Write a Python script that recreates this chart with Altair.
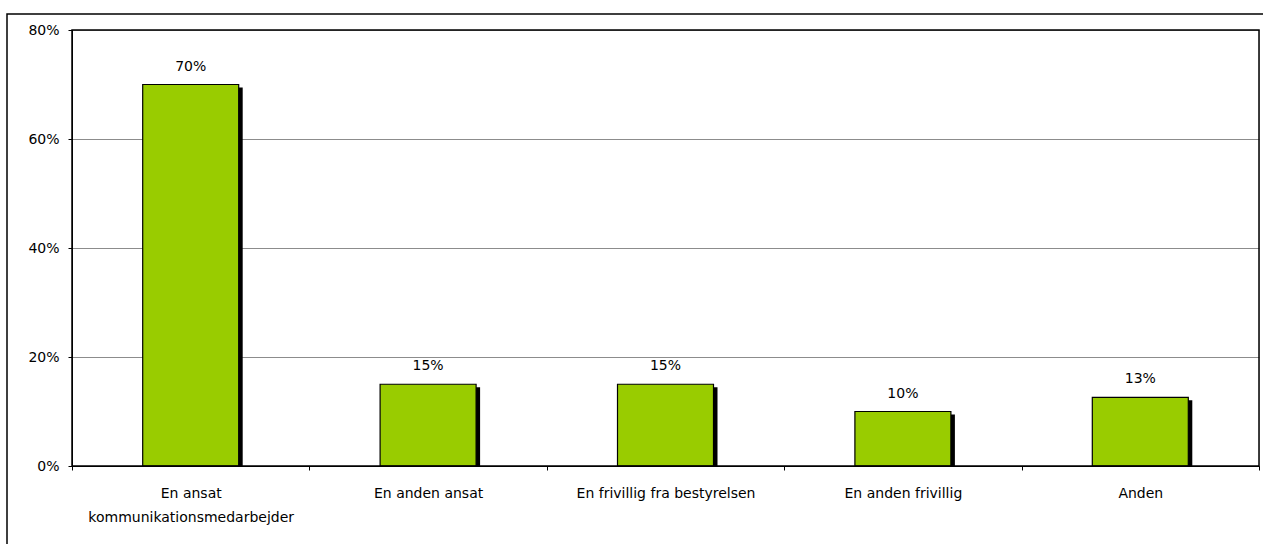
import altair as alt
import pandas as pd

# Who handles the communication work (share of respondents)
categories = [
    "En ansat|kommunikationsmedarbejder",
    "En anden ansat",
    "En frivillig fra bestyrelsen",
    "En anden frivillig",
    "Anden",
]
shares = [0.70, 0.15, 0.15, 0.10, 0.126]
y_ticks = [0.0, 0.2, 0.4, 0.6, 0.8]

df = pd.DataFrame({"category": categories, "share": shares})

FONT = "DejaVu Sans"
FONT_SIZE = 14
GREEN = "#99CC00"

x_enc = alt.X(
    "category:N",
    sort=None,
    title=None,
    scale=alt.Scale(paddingInner=0, paddingOuter=0),
    axis=alt.Axis(
        labelAngle=0,
        labelExpr="split(datum.label, '|')",
        labelLimit=0,
        labelLineHeight=24,
        labelPadding=16,
        labelFont=FONT,
        labelFontSize=FONT_SIZE,
        labelColor="#000000",
        tickBand="extent",
        tickSize=4,
        tickColor="#000000",
        domainColor="#000000",
        grid=False,
    ),
)
y_enc = alt.Y(
    "share:Q",
    title=None,
    scale=alt.Scale(domain=[0, 0.8], nice=False),
    axis=alt.Axis(
        values=y_ticks,
        format=".0%",
        labelFont=FONT,
        labelFontSize=FONT_SIZE,
        labelColor="#000000",
        labelPadding=9,
        tickSize=4,
        tickColor="#000000",
        domainColor="#000000",
        grid=True,
        gridColor="#8c8c8c",
        gridWidth=1,
    ),
)

base = alt.Chart(df)

# drop shadow behind each bar
shadow = base.mark_bar(
    width=96, color="#000000", xOffset=4, yOffset=3, clip=True
).encode(x=x_enc, y=y_enc)

bars = base.mark_bar(
    width=96, color=GREEN, stroke="#000000", strokeWidth=1.2
).encode(x=x_enc, y=y_enc)

labels = base.mark_text(
    dy=-18, baseline="middle", font=FONT, fontSize=FONT_SIZE, color="#000000"
).encode(x=x_enc, y=y_enc, text=alt.Text("share:Q", format=".0%"))

one_row = alt.Data(values=[{"f": 1}])

# dark border round the plot area, drawn over the gridlines
plot_frame = alt.Chart(one_row).mark_rect(
    fill=None, stroke="#000000", strokeWidth=1.5
).encode(
    x=alt.value(0),
    x2=alt.value({"expr": "width"}),
    y=alt.value(0),
    y2=alt.value({"expr": "height"}),
)

# outer chart-area frame
frame = alt.Chart(one_row).mark_rect(
    fill=None, stroke="#000000", strokeWidth=1.5
).encode(
    x=alt.value(-65), x2=alt.value(1300), y=alt.value(-16), y2=alt.value(600)
)

chart = (
    alt.layer(frame, shadow, bars, labels, plot_frame)
    .properties(
        width=1187,
        height=436,
        autosize=alt.AutoSizeParams(type="none"),
        padding={"left": 72, "top": 30, "right": 4, "bottom": 78},
    )
    .configure_view(stroke=None)
    .configure(background="#ffffff")
)

chart.save("out.html", embed_options={"renderer": "svg", "actions": False})
